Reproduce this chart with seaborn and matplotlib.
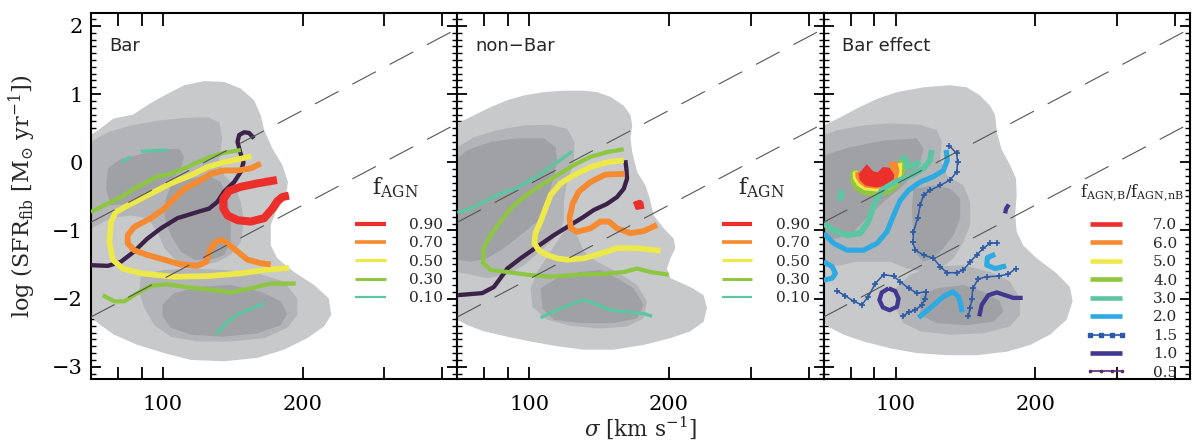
import matplotlib
matplotlib.use("Agg")
import matplotlib.pyplot as plt
from matplotlib.lines import Line2D
from matplotlib.ticker import MultipleLocator, NullFormatter, FixedLocator, FixedFormatter
import pandas as pd
import seaborn as sns

# ---------------- data: (sigma [km/s], log SFR_fib) ----------------
# ---- Bar panel: density contours
bar_light = [(70.0,0.40),(73.2,0.49),(78.2,0.64),(86.3,0.70),(93.7,0.86),(100.7,0.98),(111.2,1.13),(122.7,1.19),
             (135.5,1.18),(147.2,1.08),(157.2,0.91),(162.5,0.69),(165.3,0.47),(172.2,0.20),(180.9,-0.04),(186.0,-0.29),
             (183.9,-0.53),(175.1,-0.73),(170.8,-0.92),(170.8,-1.22),(176.5,-1.41),(191.7,-1.61),(211.7,-1.80),
             (227.9,-2.00),(230.5,-2.24),(222.4,-2.41),(204.8,-2.58),(182.4,-2.75),(159.8,-2.87),(135.5,-2.92),
             (114.9,-2.90),(100.7,-2.80),(88.2,-2.68),(78.5,-2.53),(72.4,-2.36),(70.0,-2.26)]
bar_mid_a = [(70.0,0.30),(76.1,0.44),(85.3,0.54),(97.4,0.61),(111.2,0.65),(124.8,0.66),(132.2,0.59),(134.4,0.35),
             (132.2,0.05),(135.5,-0.19),(142.4,-0.34),(147.2,-0.58),(149.6,-0.87),(147.2,-1.17),(140.0,-1.36),
             (131.1,-1.46),(122.7,-1.51),(114.9,-1.51),(107.5,-1.46),(100.7,-1.26),(97.4,-1.02),(92.6,-0.82),
             (85.3,-0.78),(77.3,-0.82),(72.4,-0.92),(70.0,-0.97)]
bar_mid_b = [(89.7,-1.65),(100.7,-1.58),(114.9,-1.56),(135.5,-1.58),(159.8,-1.63),(182.4,-1.75),(194.9,-2.00),
             (194.9,-2.24),(185.4,-2.43),(165.3,-2.58),(140.0,-2.63),(118.7,-2.63),(104.0,-2.56),(95.8,-2.39),
             (91.2,-2.14),(88.9,-1.90)]
bar_dark_a = [(76.1,-0.09),(81.2,0.05),(91.2,0.13),(102.3,0.19),(108.4,0.20),(111.2,0.08),(108.4,-0.14),
              (101.5,-0.34),(92.6,-0.48),(83.9,-0.61),(77.3,-0.63),(75.4,-0.39)]
bar_dark_b = [(104.0,-0.34),(114.9,-0.24),(124.8,-0.19),(133.3,-0.29),(137.8,-0.53),(140.0,-0.82),(140.0,-1.17),
              (135.5,-1.36),(126.8,-1.43),(116.8,-1.43),(109.3,-1.31),(104.0,-1.07),(100.7,-0.78),(101.5,-0.53)]
bar_dark_c = [(99.8,-2.09),(105.8,-1.92),(118.7,-1.83),(140.0,-1.80),(162.5,-1.90),(179.4,-2.04),(185.4,-2.22),
              (179.4,-2.39),(159.8,-2.51),(135.5,-2.56),(114.9,-2.53),(104.0,-2.43),(99.8,-2.26)]
# ---- Bar panel: f_AGN contours
bar_ref = [[(70.0,-1.51),(76.1,-1.52),(81.2,-1.46),(86.7,-1.31),(92.6,-1.12),(99.0,-0.97),(107.5,-0.82),(118.7,-0.73),
            (125.8,-0.68),(131.1,-0.58),(135.5,-0.43),(142.4,-0.29),(147.2,-0.14),(149.2,0.00),(146.7,0.15),
            (144.8,0.30),(146.0,0.40),(149.6,0.44),(153.4,0.43),(157.2,0.35)]]
bar_f50 = [[(155.1,0.09),(144.8,0.04),(135.5,0.00),(124.8,-0.07),(114.9,-0.19),(104.0,-0.31),(94.2,-0.46),(85.3,-0.61),
            (79.2,-0.73),(77.3,-0.87),(76.7,-1.17),(78.0,-1.43),(81.9,-1.56),(89.7,-1.63),(105.8,-1.68),(124.8,-1.67),
            (147.2,-1.63),(165.3,-1.58),(186.9,-1.55)]]
bar_f70 = [[(162.5,-0.02),(154.6,-0.09),(144.8,-0.12),(135.5,-0.12),(126.8,-0.17),(118.7,-0.29),(111.2,-0.39),
            (105.8,-0.53),(100.7,-0.68),(94.2,-0.82),(86.7,-0.95),(84.0,-1.07),(84.0,-1.19),(86.7,-1.29),(92.6,-1.36),
            (100.7,-1.43),(109.3,-1.50),(118.7,-1.52),(124.0,-1.46),(126.0,-1.31),(129.0,-1.19),(133.3,-1.14),
            (137.8,-1.19),(144.8,-1.31),(152.1,-1.43),(162.5,-1.48),(170.8,-1.50)]]
bar_f90 = [[(176.1,-0.26),(159.8,-0.31),(147.2,-0.36),(138.9,-0.42),(135.0,-0.54),(135.0,-0.68),(137.8,-0.78),
            (144.8,-0.85),(154.6,-0.87),(165.3,-0.82),(172.2,-0.68),(176.5,-0.57),(180.9,-0.51),(186.9,-0.49)]]
bar_f30 = [[(70.0,-0.73),(74.8,-0.63),(81.2,-0.51),(88.2,-0.36),(97.4,-0.21),(104.0,-0.17),(111.2,-0.09),(118.7,0.00),
            (126.8,0.08),(135.5,0.14),(147.2,0.18)],
           [(74.2,-1.95),(78.5,-2.04),(82.6,-2.04),(86.7,-1.95),(94.2,-1.81),(102.3,-1.79),(114.9,-1.84),(126.8,-1.87),
            (140.0,-1.91),(154.6,-1.85),(170.8,-1.78),(193.3,-1.78)]]
bar_f10 = [[(81.8,0.00),(85.0,0.08)], [(89.7,0.16),(102.3,0.18)],
           [(130.0,-2.53),(135.5,-2.39),(142.4,-2.26),(152.1,-2.17),(165.3,-2.07)]]

# ---- non-Bar panel: density contours
nbar_light = [(70.0,0.57),(76.1,0.69),(82.6,0.81),(89.7,0.91),(97.4,0.98),(107.5,1.03),(118.7,1.05),(131.1,1.05),
              (140.0,1.03),(149.6,0.96),(159.8,0.83),(165.3,0.69),(166.7,0.54),(165.3,0.35),(166.7,0.15),(170.8,-0.14),
              (178.0,-0.34),(181.8,-0.53),(185.4,-0.78),(194.9,-0.97),(204.8,-1.12),(206.5,-1.26),(201.5,-1.41),
              (198.1,-1.56),(201.5,-1.70),(222.4,-1.83),(237.6,-1.95),(241.5,-2.14),(237.6,-2.34),(222.4,-2.48),
              (201.5,-2.58),(176.5,-2.68),(152.1,-2.75),(131.1,-2.75),(114.9,-2.70),(100.7,-2.63),(89.7,-2.56),
              (79.8,-2.48),(73.6,-2.39),(70.0,-2.31)]
nbar_mid_a = [(70.0,0.22),(76.1,0.37),(85.3,0.47),(97.4,0.54),(111.2,0.55),(120.7,0.49),(125.2,0.30),(124.8,0.00),
              (120.7,-0.29),(118.7,-0.58),(118.7,-0.87),(114.9,-1.07),(107.5,-1.26),(97.4,-1.51),(89.7,-1.65),
              (81.2,-1.70),(74.8,-1.65),(70.0,-1.61)]
nbar_mid_b = [(100.7,-1.85),(104.0,-1.61),(111.2,-1.31),(118.7,-1.02),(124.0,-0.92),(126.8,-1.07),(131.1,-1.31),
              (140.0,-1.46),(154.6,-1.61),(170.8,-1.80),(179.4,-2.04),(176.5,-2.29),(162.5,-2.41),(142.4,-2.44),
              (122.7,-2.40),(109.3,-2.31),(101.5,-2.12)]
nbar_dark_a = [(70.0,0.05),(73.6,0.18),(82.6,0.30),(94.2,0.35),(107.5,0.35),(114.0,0.22),(114.9,0.00),(112.1,-0.29),
               (109.3,-0.58),(104.0,-0.87),(95.8,-1.07),(88.2,-1.26),(81.2,-1.41),(74.8,-1.46),(70.0,-1.43)]
nbar_dark_b = [(105.8,-1.85),(114.9,-1.70),(128.9,-1.61),(142.4,-1.58),(154.6,-1.70),(167.9,-1.85),(176.5,-2.09),
               (170.8,-2.29),(152.1,-2.36),(128.9,-2.36),(113.0,-2.31),(106.7,-2.14)]
# ---- non-Bar panel: f_AGN contours
nbar_ref = [[(70.0,-1.95),(79.2,-1.92),(83.9,-1.83),(86.7,-1.70),(89.7,-1.56),(95.8,-1.41),(104.0,-1.24),(113.0,-1.07),
             (122.7,-0.92),(131.1,-0.80),(137.8,-0.70),(147.2,-0.61),(154.6,-0.51),(159.8,-0.39),(162.5,-0.24),
             (161.9,-0.09),(161.1,0.03)]]
nbar_f50 = [[(159.8,0.03),(147.2,0.00),(135.5,-0.07),(124.8,-0.19),(116.8,-0.31),(111.2,-0.48),(108.4,-0.68),
             (105.8,-0.87),(103.1,-1.04),(102.6,-1.19),(104.8,-1.29),(109.3,-1.36),(114.9,-1.41),(120.7,-1.43),
             (131.1,-1.41),(142.4,-1.34),(154.6,-1.26),(170.8,-1.26),(191.7,-1.30)]]
nbar_f70 = [[(160.6,-0.17),(146.0,-0.18),(135.5,-0.29),(127.9,-0.43),(124.0,-0.61),(122.1,-0.82),(123.0,-0.97),
             (126.8,-1.02),(135.5,-0.97),(142.4,-0.87),(148.4,-0.87),(154.6,-0.97),(165.3,-1.04),(176.5,-1.01),
             (188.5,-0.92)]]
nbar_f90 = [[(168.4,-0.64),(172.9,-0.61),(173.7,-0.69)]]
nbar_f30 = [[(159.8,0.19),(147.2,0.15),(135.5,0.08),(124.8,-0.04),(114.9,-0.19),(105.8,-0.34),(97.4,-0.51),(91.2,-0.68),
             (86.7,-0.87),(82.6,-1.07),(79.8,-1.26),(79.5,-1.48),(82.6,-1.58),(89.7,-1.61),(99.0,-1.65),(111.2,-1.68),
             (126.8,-1.65),(144.8,-1.64),(159.8,-1.61),(170.8,-1.56),(182.4,-1.61),(199.8,-1.65)]]
nbar_f10 = [[(70.0,-0.74),(74.8,-0.68),(79.8,-0.58),(86.7,-0.46),(93.4,-0.39),(99.0,-0.29),(105.8,-0.17),(114.9,0.00),
             (123.8,0.16)],
            [(105.8,-2.28),(114.9,-2.17),(122.7,-2.09),(129.9,-2.02),(137.8,-2.07),(149.6,-2.17),(162.5,-2.20),
             (176.5,-2.22),(184.1,-2.26)]]

# ---- Bar effect panel: density contours
eff_light = [(70.0,0.54),(76.1,0.66),(82.6,0.79),(91.2,0.93),(100.7,1.03),(114.9,1.10),(131.1,1.13),(142.4,1.10),
             (152.1,0.98),(159.8,0.83),(163.9,0.69),(165.3,0.44),(169.4,0.18),(176.5,-0.04),(181.8,-0.24),(182.4,-0.48),
             (181.0,-0.78),(182.4,-1.02),(188.5,-1.22),(201.5,-1.41),(222.4,-1.63),(237.6,-1.83),(240.7,-2.04),
             (233.7,-2.31),(215.2,-2.53),(194.9,-2.68),(173.6,-2.78),(149.6,-2.83),(128.9,-2.83),(111.2,-2.80),
             (97.4,-2.73),(85.3,-2.63),(77.3,-2.53),(72.4,-2.43),(70.0,-2.36)]
eff_mid_a = [(70.0,0.40),(74.8,0.47),(85.3,0.54),(97.4,0.57),(113.0,0.55),(122.7,0.47),(125.8,0.30),(124.8,0.05),
             (128.9,-0.19),(140.0,-0.34),(144.8,-0.58),(144.8,-0.92),(140.0,-1.17),(133.3,-1.41),(124.8,-1.56),
             (114.9,-1.61),(105.8,-1.56),(97.4,-1.46),(89.7,-1.46),(82.6,-1.46),(76.1,-1.51),(70.0,-1.53)]
eff_mid_b = [(100.0,-1.85),(107.5,-1.65),(120.7,-1.53),(140.0,-1.51),(159.8,-1.61),(176.5,-1.75),(185.4,-2.00),
             (185.4,-2.24),(176.5,-2.41),(154.6,-2.51),(131.1,-2.53),(113.0,-2.48),(104.0,-2.36),(100.0,-2.14)]
eff_dark_a = [(70.0,0.10),(79.8,0.22),(94.2,0.32),(111.2,0.35),(114.9,0.20),(112.1,-0.09),(104.0,-0.34),(94.2,-0.58),
              (86.7,-0.82),(81.2,-1.02),(74.8,-1.12),(70.0,-1.12)]
eff_dark_b = [(109.3,-0.39),(120.7,-0.34),(131.1,-0.39),(137.8,-0.53),(137.8,-0.82),(133.3,-1.07),(126.8,-1.26),
              (120.7,-1.41),(114.9,-1.46),(111.2,-1.36),(109.3,-1.07),(108.4,-0.68)]
eff_dark_c = [(113.0,-1.95),(122.7,-1.85),(140.0,-1.80),(154.6,-1.90),(167.9,-2.04),(170.8,-2.19),(162.5,-2.34),
              (142.4,-2.39),(122.7,-2.36),(113.0,-2.24)]
# ---- Bar effect panel: ratio f_AGN,B / f_AGN,nB contours
eff_r4 = [(80.2,-0.14),(81.9,-0.10),(83.3,-0.17),(84.6,-0.29),(88.2,-0.36),(93.4,-0.36),(98.2,-0.31),(99.8,-0.19),
          (99.0,-0.09),(101.5,0.00),(102.7,0.08),(105.8,0.09),(105.8,-0.04),(104.0,-0.21),(101.5,-0.36),(97.4,-0.46),
          (91.2,-0.51),(85.3,-0.48),(81.9,-0.41),(79.9,-0.29)]
eff_r5 = [(80.9,-0.14),(82.6,-0.12),(84.0,-0.19),(85.3,-0.29),(88.2,-0.35),(93.4,-0.35),(98.2,-0.30),(99.5,-0.19),
          (98.7,-0.09),(101.0,-0.02),(103.4,0.00),(103.2,-0.19),(101.0,-0.31),(97.1,-0.40),(91.2,-0.43),(85.6,-0.41),
          (82.6,-0.34),(80.9,-0.24)]
eff_r6 = [(81.9,-0.14),(83.4,-0.14),(84.8,-0.24),(87.4,-0.32),(93.4,-0.34),(98.2,-0.28),(99.3,-0.19),(97.4,-0.07),
          (96.3,0.00),(100.7,0.01),(102.0,-0.12),(101.0,-0.25),(97.4,-0.35),(91.2,-0.39),(85.9,-0.37),(83.3,-0.30),
          (81.9,-0.21)]
eff_r7 = [(83.3,-0.17),(86.7,-0.03),(89.4,-0.13),(91.5,-0.15),(93.9,-0.07),(97.1,-0.08),(99.3,-0.18),(99.0,-0.28),
          (95.8,-0.35),(90.5,-0.37),(86.0,-0.34),(83.7,-0.26)]
eff_r3 = [[(70.0,-0.90),(73.6,-1.00),(78.6,-1.07),(84.0,-1.04),(87.4,-0.87),(89.7,-0.63),(93.4,-0.41),(99.8,-0.29),
           (108.4,-0.19),(114.9,-0.09),(118.7,0.03),(119.7,0.18)],
          [(102.7,0.08),(105.0,0.05),(106.2,-0.07),(109.7,-0.04),(113.0,0.01)],
          [(75.4,-0.56),(76.6,-0.48),(76.0,-0.41)]]
eff_r2 = [[(128.5,0.18),(129.3,0.03),(126.8,-0.12),(120.7,-0.21),(113.0,-0.29),(106.7,-0.41),(102.3,-0.56),(99.0,-0.78),
           (95.8,-1.02),(91.2,-1.19),(85.3,-1.29),(78.6,-1.29),(73.6,-1.19),(70.0,-1.04)],
          [(70.0,-1.46),(73.0,-1.53),(74.2,-1.63),(73.0,-1.70),(70.0,-1.73)],
          [(163.9,-1.35),(157.7,-1.40),(157.2,-1.51),(163.9,-1.56),(173.1,-1.52)],
          [(112.1,-2.28),(118.7,-2.14),(126.8,-1.97),(132.8,-1.90),(136.6,-1.97),(138.3,-2.09),(139.1,-2.20)]]
eff_r15 = [[(130.6,0.24),(135.5,0.13),(136.0,0.00),(135.5,-0.14),(131.1,-0.26),(124.8,-0.34),(118.7,-0.41),(114.9,-0.48),
            (113.0,-0.63),(111.6,-0.82),(109.3,-1.02),(109.0,-1.17),(110.2,-1.29),(114.9,-1.36),(120.7,-1.41),
            (124.8,-1.53),(129.0,-1.62),(135.5,-1.62),(140.0,-1.58),(144.8,-1.46),(149.6,-1.36),(154.6,-1.26),
            (159.8,-1.19),(165.8,-1.18)],
           [(74.8,-1.89),(78.0,-1.96),(81.2,-2.04),(84.6,-2.09),(87.4,-1.97),(90.4,-1.78),(94.2,-1.65),(99.0,-1.67),
            (102.3,-1.75),(106.7,-1.85),(111.2,-1.92),(116.4,-1.90),(115.9,-2.00),(114.0,-2.09),(110.2,-2.17),
            (106.7,-2.20),(103.7,-2.26)],
           [(143.6,-2.25),(144.8,-2.14),(146.0,-2.00),(146.7,-1.85),(150.8,-1.71),(157.2,-1.68),(166.7,-1.67),
            (175.1,-1.64),(181.5,-1.56)]]
eff_r1 = [[(96.6,-1.85),(99.8,-1.89),(101.5,-2.00),(100.7,-2.12),(97.1,-2.17),(93.9,-2.13),(92.3,-2.02),(93.4,-1.91),
           (96.6,-1.85)],
          [(151.5,-2.26),(153.4,-2.09),(158.5,-1.95),(165.3,-1.91),(172.2,-1.95),(179.4,-1.99),(187.9,-1.99)],
          [(172.2,-0.75),(173.1,-0.68),(175.4,-0.62)]]

# ---- guide lines (same in every panel)
guide_sigma = [70.0, 431.0]
guide_upper = [-0.88, 1.96]
guide_lower = [-2.27, 0.57]

# ---- legend labels
fagn_labels = ["0.90", "0.70", "0.50", "0.30", "0.10"]
ratio_labels = ["7.0", "6.0", "5.0", "4.0", "3.0", "2.0", "1.5", "1.0", "0.5"]
panel_names = ["Bar", "non\u2212Bar", "Bar effect"]
x_major = [100, 200, 300, 400]
x_major_labels = ["100", "200", "", ""]
x_minor = [80, 90]

# ---------------- style ----------------
RED, ORANGE, YELLOW, GREEN, TEAL = "#ec2f2a", "#f58a30", "#ede94a", "#8dc63f", "#5cc6a2"
PURPLE, BLUE, DBLUE, NAVY, DPURP = "#3c2249", "#2eaae2", "#2a5aa8", "#40398f", "#5c2b6d"
G_LIGHT, G_MID, G_DARK = "#c8c9cb", "#b3b4b7", "#a0a1a4"

sns.set_theme(style="ticks")
plt.rcParams["font.family"] = ["DejaVu Serif"]
plt.rcParams["mathtext.fontset"] = "dejavuserif"
plt.rcParams["axes.linewidth"] = 1.5

fig, axes = plt.subplots(1, 3, figsize=(11.92, 4.43), dpi=100, sharey=True,
                         gridspec_kw=dict(wspace=0))
fig.subplots_adjust(left=91/1192, right=1190/1192, top=1-13/443, bottom=1-379/443)


def fill_regions(ax, regions, color, z=1):
    for reg in regions:
        s, f = zip(*reg)
        ax.fill(s, f, color=color, lw=0, zorder=z)


def draw_paths(ax, paths, **kw):
    for p in paths:
        df = pd.DataFrame(p, columns=["sigma", "sfr"])
        sns.lineplot(data=df, x="sigma", y="sfr", sort=False, estimator=None, ax=ax,
                     legend=False, **kw)


for ax in axes:
    ax.set_xscale("log")

# densities
dens = [
    ([bar_light], [bar_mid_a, bar_mid_b], [bar_dark_a, bar_dark_b, bar_dark_c]),
    ([nbar_light], [nbar_mid_a, nbar_mid_b], [nbar_dark_a, nbar_dark_b]),
    ([eff_light], [eff_mid_a, eff_mid_b], [eff_dark_a, eff_dark_b, eff_dark_c]),
]
for ax, (lt, md, dk) in zip(axes, dens):
    fill_regions(ax, lt, G_LIGHT, 1)
    fill_regions(ax, md, G_MID, 1.1)
    fill_regions(ax, dk, G_DARK, 1.2)

cap = dict(solid_capstyle="butt", solid_joinstyle="round")
# Bar and non-Bar f_AGN lines
for ax, (ref, f10, f30, f50, f70, f90) in zip(axes[:2], [
        (bar_ref, bar_f10, bar_f30, bar_f50, bar_f70, bar_f90),
        (nbar_ref, nbar_f10, nbar_f30, nbar_f50, nbar_f70, nbar_f90)]):
    draw_paths(ax, ref, color=PURPLE, lw=3.1, zorder=3, **cap)
    draw_paths(ax, f10, color=TEAL, lw=2.4, zorder=3, **cap)
    draw_paths(ax, f30, color=GREEN, lw=3.0, zorder=3, **cap)
    draw_paths(ax, f50, color=YELLOW, lw=4.1, zorder=3, **cap)
    draw_paths(ax, f70, color=ORANGE, lw=4.2, zorder=3, **cap)
    draw_paths(ax, f90, color=RED, lw=5.8, zorder=3, **cap)

# Bar effect panel
ax3 = axes[2]
fill_regions(ax3, [eff_r4], GREEN, 2)
fill_regions(ax3, [eff_r5], YELLOW, 2.1)
fill_regions(ax3, [eff_r6], ORANGE, 2.2)
fill_regions(ax3, [eff_r7], RED, 2.3)
draw_paths(ax3, eff_r3, color=TEAL, lw=4.3, zorder=3, **cap)
draw_paths(ax3, eff_r2, color=BLUE, lw=3.7, zorder=3, **cap)
draw_paths(ax3, eff_r1, color=NAVY, lw=3.1, zorder=3, **cap)
draw_paths(ax3, eff_r15, color=DBLUE, lw=1.1, marker="+", markersize=4.0,
           markeredgecolor=DBLUE, markeredgewidth=1.2, zorder=3.5)

# guide lines and axes cosmetics
for i, ax in enumerate(axes):
    for g in (guide_upper, guide_lower):
        ax.plot(guide_sigma, g, color="#555555", lw=0.8, dashes=(24, 14), zorder=4)
    ax.set_xlim(70, 431)
    ax.set_ylim(-3.18, 2.19)
    ax.xaxis.set_major_locator(FixedLocator(x_major))
    ax.xaxis.set_major_formatter(FixedFormatter(x_major_labels))
    ax.xaxis.set_minor_locator(FixedLocator(x_minor))
    ax.xaxis.set_minor_formatter(NullFormatter())
    ax.yaxis.set_major_locator(FixedLocator([-3, -2, -1, 0, 1, 2]))
    ax.yaxis.set_minor_locator(MultipleLocator(0.1))
    ax.tick_params(which="both", direction="in", top=True, right=True, colors="black")
    ax.tick_params(axis="x", which="both", length=9, width=1.3, pad=11.5, labelsize=15)
    ax.tick_params(axis="y", which="major", length=7, width=1.3, pad=6, labelsize=15)
    ax.tick_params(axis="y", which="minor", length=3.5, width=1.0)
    for sp in ax.spines.values():
        sp.set_linewidth(1.5)
        sp.set_color("black")
    ax.set_xlabel("")
    ax.set_ylabel("")
    ax.text(0.049, 0.896, panel_names[i], transform=ax.transAxes, fontsize=13,
            family="DejaVu Sans", va="baseline", ha="left", zorder=6)

axes[0].set_ylabel(r"log (SFR$_{\rm fib}$ [M$_{\odot}$ yr$^{-1}$])", fontsize=16, labelpad=10)
axes[1].set_xlabel(r"$\sigma$ [km s$^{-1}$]", fontsize=15.5, labelpad=0.5)

# legends
f_colors = [RED, ORANGE, YELLOW, GREEN, TEAL]
f_widths = [3.0, 2.6, 2.3, 2.1, 1.6]
for ax in axes[:2]:
    hs = [Line2D([], [], color=c, lw=w, solid_capstyle="butt") for c, w in zip(f_colors, f_widths)]
    leg = ax.legend(hs, fagn_labels, title=r"$\mathrm{f}_{\mathrm{AGN}}$  ", loc="upper right",
                    bbox_to_anchor=(0.962, 0.555), frameon=False, fontsize=11, title_fontsize=16,
                    handlelength=2.0, handletextpad=1.55, labelspacing=0.275, borderpad=0,
                    borderaxespad=0)
    leg._legend_box.sep = 12.8

r_styles = [dict(color=RED, lw=3.3), dict(color=ORANGE, lw=3.3), dict(color=YELLOW, lw=3.3),
            dict(color=GREEN, lw=3.3), dict(color=TEAL, lw=3.3), dict(color=BLUE, lw=3.3),
            dict(color=DBLUE, lw=1.2, marker="s", markersize=2.2),
            dict(color=NAVY, lw=3.3), dict(color=DPURP, lw=1.2, marker="s", markersize=2.0)]
hs = [Line2D([], [], solid_capstyle="butt", **st) for st in r_styles]
leg3 = ax3.legend(hs, ratio_labels,
                  title=r"$\mathrm{f}_{\mathrm{AGN{,}B}}/\mathrm{f}_{\mathrm{AGN{,}nB}}$",
                  loc="upper right", bbox_to_anchor=(0.982, 0.536), frameon=False, fontsize=11,
                  title_fontsize=11.5, handlelength=2.68, handletextpad=1.73, labelspacing=0.292,
                  borderpad=0, borderaxespad=0, numpoints=4)
leg3._legend_box.sep = 10.2

fig.savefig("out.png", dpi=100)
